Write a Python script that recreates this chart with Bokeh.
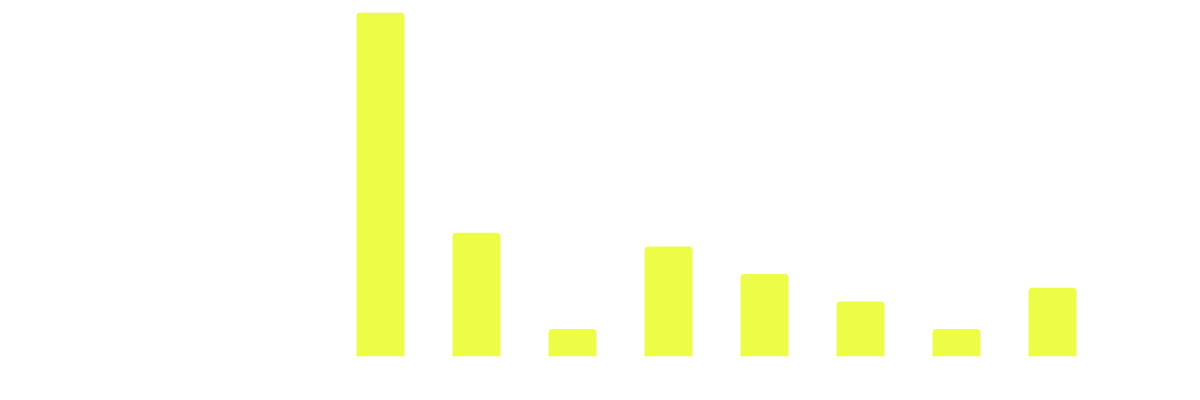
from bokeh.plotting import figure
from bokeh.models import ColumnDataSource, Range1d
from bokeh.embed import file_html
from bokeh.resources import INLINE

# data (no labels are shown in it)
categories = ["c1", "c2", "c3", "c4", "c5", "c6", "c7", "c8"]
values = [25, 9, 2, 8, 6, 4, 2, 5]

src = ColumnDataSource(data=dict(cat=categories, val=values))

p = figure(width=1184, height=384, x_range=categories, y_range=Range1d(0, 25),
           output_backend="svg", toolbar_location=None,
           min_border_left=332, min_border_right=84,
           min_border_top=12, min_border_bottom=28)

p.vbar(x="cat", top="val", width=0.5, source=src,
       fill_color="#ecfc47", line_color=None,
       border_radius=(4, 4, 0, 0))

# no axes, grid or frame in the reference
p.axis.visible = False
p.xgrid.grid_line_color = None
p.ygrid.grid_line_color = None
p.outline_line_color = None
p.background_fill_color = "white"
p.border_fill_color = "white"
p.x_range.range_padding = 0

open("out.html", "w").write(file_html(p, INLINE))
